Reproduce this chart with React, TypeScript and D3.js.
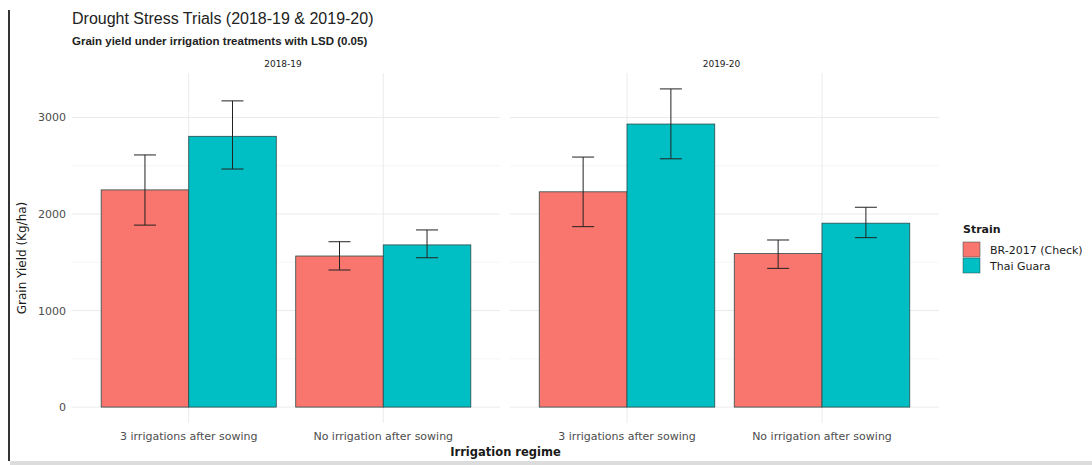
import React from "react";
import * as d3 from "d3";

const seasons = ["2018-19", "2019-20"];
const treatments = ["3 irrigations after sowing", "No irrigation after sowing"];
const strains = ["BR-2017 (Check)", "Thai Guara"];
const strainColors = ["#F8766D", "#00BFC4"];
// values [season][treatment][strain]
const yieldMean = [
  [[2250, 2805], [1565, 1680]],
  [[2230, 2932], [1590, 1905]],
];
const lsdLow = [
  [[1885, 2466], [1420, 1547]],
  [[1869, 2572], [1437, 1755]],
];
const lsdHigh = [
  [[2612, 3172], [1713, 1835]],
  [[2590, 3296], [1731, 2070]],
];
const yTicks = [0, 1000, 2000, 3000];
const yMinor = [500, 1500, 2500];

const W = 1092;
const H = 465;
const FONT = "'Liberation Sans', Arial, sans-serif";
const AXF = "'DejaVu Sans', sans-serif";
const panels = [
  { left: 72, right: 500 },
  { left: 510, right: 939 },
];

export default function App() {
  const allHigh = d3.max(lsdHigh.flat(2)) as number;
  const ext = allHigh * 0.05;
  const y = d3.scaleLinear().domain([-ext, allHigh + ext]).range([423, 73]);
  const panelTop = 73;
  const panelBottom = 423;

  return (
    <svg width={W} height={H} style={{ position: "absolute", left: 0, top: 0, background: "#fff" }} fontFamily={FONT}>
      <rect x={0} y={0} width={W} height={H} fill="#fff" />
      <line x1={9} x2={9} y1={10} y2={461} stroke="#000" strokeWidth={1.6} />
      <rect x={10} y={461} width={W - 10} height={4} fill="#dcdcdc" />

      <text x={72} y={24} fontSize={16} fill="#222">Drought Stress Trials (2018-19 &amp; 2019-20)</text>
      <text x={72} y={45} fontSize={11.5} fontWeight="bold" fill="#222">Grain yield under irrigation treatments with LSD (0.05)</text>

      {panels.map((p, si) => {
        const x = d3.scaleBand<string>().domain(treatments).range([p.left, p.right]).paddingInner(0.1).paddingOuter(0.15);
        const xs = d3.scaleBand<string>().domain(strains).range([0, x.bandwidth()]);
        const cap = 22;
        return (
          <g key={si}>
            {yMinor.map((t) => (
              <line key={"mn" + t} x1={p.left} x2={p.right} y1={y(t)} y2={y(t)} stroke="#f2f2f2" strokeWidth={0.7} />
            ))}
            {yTicks.map((t) => (
              <line key={"mj" + t} x1={p.left} x2={p.right} y1={y(t)} y2={y(t)} stroke="#ebebeb" strokeWidth={1} />
            ))}
            {treatments.map((t) => {
              const cx = (x(t) as number) + x.bandwidth() / 2;
              return <line key={"v" + t} x1={cx} x2={cx} y1={panelTop} y2={panelBottom} stroke="#ebebeb" strokeWidth={1} />;
            })}
            <text x={(p.left + p.right) / 2 - 3} y={67} fontSize={9} fontFamily={AXF} textAnchor="middle" fill="#1a1a1a">{seasons[si]}</text>
            {treatments.map((t, ti) => (
              <g key={"b" + t}>
                {strains.map((s, k) => {
                  const bx = (x(t) as number) + (xs(s) as number);
                  const v = yieldMean[si][ti][k];
                  return (
                    <rect key={s} x={bx} y={y(v)} width={xs.bandwidth()} height={y(0) - y(v)} fill={strainColors[k]} stroke="#2b4a4a" strokeWidth={0.8} />
                  );
                })}
                {strains.map((s, k) => {
                  const cx = (x(t) as number) + (xs(s) as number) + xs.bandwidth() / 2;
                  const lo = lsdLow[si][ti][k];
                  const hi = lsdHigh[si][ti][k];
                  return (
                    <g key={"e" + s} stroke="#222" strokeWidth={1}>
                      <line x1={cx} x2={cx} y1={y(hi)} y2={y(lo)} />
                      <line x1={cx - cap / 2} x2={cx + cap / 2} y1={y(hi)} y2={y(hi)} />
                      <line x1={cx - cap / 2} x2={cx + cap / 2} y1={y(lo)} y2={y(lo)} />
                    </g>
                  );
                })}
                <text x={(x(t) as number) + x.bandwidth() / 2} y={440} fontSize={11} fontFamily={AXF} textAnchor="middle" fill="#4d4d4d">{t}</text>
              </g>
            ))}
          </g>
        );
      })}

      {yTicks.map((t) => (
        <text key={"yt" + t} x={66} y={y(t) + 4} fontSize={11} fontFamily={AXF} textAnchor="end" fill="#4d4d4d">{t}</text>
      ))}
      <text transform={`translate(26,258) rotate(-90)`} fontSize={12} fontFamily={AXF} textAnchor="middle" fill="#1a1a1a">Grain Yield (Kg/ha)</text>
      <text x={(panels[0].left + panels[1].right) / 2} y={456} fontSize={11.5} fontFamily={AXF} fontWeight="bold" textAnchor="middle" fill="#1a1a1a">Irrigation regime</text>

      <text x={963} y={233} fontSize={11} fontFamily={AXF} fontWeight="bold" fill="#1a1a1a">Strain</text>
      {strains.map((s, k) => (
        <g key={"lg" + s}>
          <rect x={963} y={242 + k * 16} width={17} height={15} fill={strainColors[k]} stroke="#2b4a4a" strokeWidth={0.5} />
          <text x={990} y={254 + k * 16} fontSize={11} fontFamily={AXF} fill="#1a1a1a">{s}</text>
        </g>
      ))}
    </svg>
  );
}
